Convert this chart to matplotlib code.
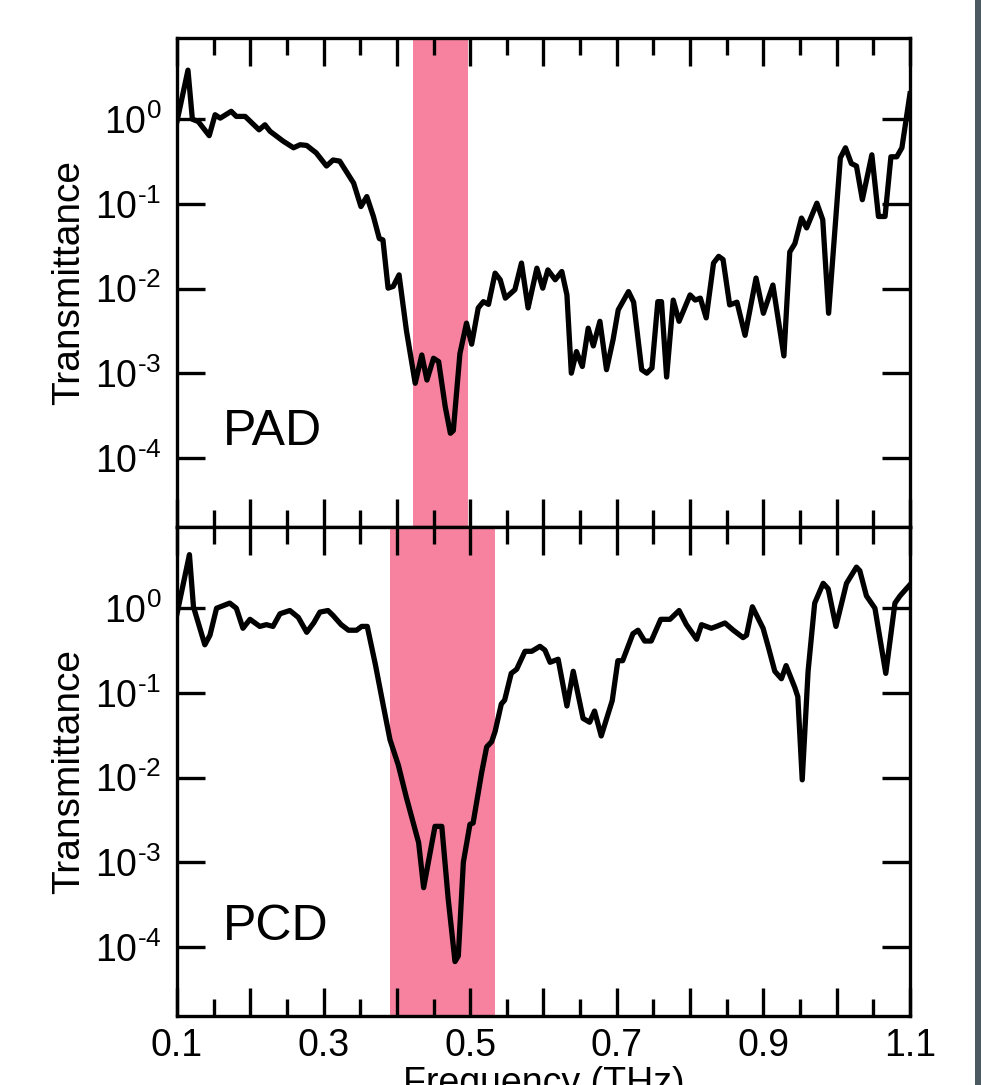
"""Terahertz transmittance spectra of the PAD and PCD samples."""

import matplotlib

matplotlib.use("Agg")
import matplotlib.pyplot as plt
import numpy as np
from matplotlib.patches import Rectangle
from matplotlib.ticker import FixedLocator, FuncFormatter

# PAD sample (top panel), frequency in THz
pad_freq = [
    0.100, 0.115, 0.121, 0.129, 0.144, 0.152, 0.159, 0.174, 0.181, 0.193,
    0.212, 0.220, 0.227, 0.245, 0.259, 0.268, 0.277, 0.290, 0.304, 0.313,
    0.322, 0.341, 0.351, 0.359, 0.368, 0.376, 0.381, 0.388, 0.395, 0.403,
    0.413, 0.425, 0.434, 0.441, 0.450, 0.457, 0.466, 0.473, 0.477, 0.486,
    0.495, 0.502, 0.511, 0.518, 0.525, 0.534, 0.541, 0.548, 0.561, 0.570,
    0.579, 0.591, 0.599, 0.606, 0.616, 0.625, 0.632, 0.638, 0.645, 0.653,
    0.661, 0.668, 0.677, 0.686, 0.695, 0.702, 0.716, 0.723, 0.734, 0.741,
    0.748, 0.756, 0.761, 0.768, 0.777, 0.785, 0.800, 0.807, 0.814, 0.822,
    0.832, 0.839, 0.845, 0.854, 0.864, 0.875, 0.890, 0.900, 0.913, 0.928,
    0.936, 0.943, 0.952, 0.959, 0.973, 0.981, 0.989, 1.005, 1.012, 1.020,
    1.027, 1.035, 1.048, 1.057, 1.066, 1.074, 1.082, 1.089, 1.100,
]
pad_trans = [
    0.94, 3.8, 1.0, 0.94, 0.64, 1.13, 1.03, 1.24, 1.08, 1.08,
    0.75, 0.86, 0.72, 0.55, 0.46, 0.50, 0.49, 0.40, 0.28, 0.33,
    0.32, 0.176, 0.093, 0.122, 0.071, 0.039, 0.0375, 0.0101, 0.0106, 0.0145,
    3.2e-3, 7.6e-4, 1.64e-3, 8.3e-4, 1.5e-3, 1.37e-3, 4.0e-4, 1.95e-4, 2.1e-4, 1.7e-3,
    3.9e-3, 2.2e-3, 5.9e-3, 7.0e-3, 6.5e-3, 0.0152, 0.0127, 7.7e-3, 9.7e-3, 0.020,
    5.9e-3, 0.0174, 0.0101, 0.0166, 0.0127, 0.0159, 8.4e-3, 1.0e-3, 1.8e-3, 1.2e-3,
    3.4e-3, 2.1e-3, 4.1e-3, 1.1e-3, 2.5e-3, 5.6e-3, 9.2e-3, 6.9e-3, 1.1e-3, 1.0e-3,
    1.15e-3, 7.0e-3, 7.0e-3, 9.0e-4, 7.3e-3, 4.1e-3, 8.4e-3, 7.3e-3, 7.7e-3, 4.5e-3,
    0.020, 0.024, 0.022, 6.4e-3, 6.9e-3, 2.8e-3, 0.0133, 5.1e-3, 0.011, 1.6e-3,
    0.027, 0.034, 0.068, 0.052, 0.102, 0.065, 5.1e-3, 0.35, 0.46, 0.30,
    0.28, 0.112, 0.38, 0.071, 0.071, 0.36, 0.36, 0.46, 2.0,
]

# PCD sample (bottom panel)
pcd_freq = [
    0.100, 0.117, 0.1225, 0.138, 0.145, 0.154, 0.172, 0.181, 0.190, 0.1996,
    0.213, 0.222, 0.231, 0.2405, 0.254, 0.2655, 0.277, 0.2865, 0.295, 0.306,
    0.313, 0.324, 0.334, 0.345, 0.352, 0.3596, 0.3706, 0.382, 0.3906, 0.402,
    0.413, 0.425, 0.4297, 0.4365, 0.452, 0.4613, 0.470, 0.4793, 0.4838, 0.4907,
    0.4997, 0.504, 0.5157, 0.5225, 0.5293, 0.534, 0.5425, 0.547, 0.556, 0.5634,
    0.5748, 0.584, 0.5952, 0.602, 0.609, 0.620, 0.632, 0.6406, 0.654, 0.663,
    0.6697, 0.6788, 0.6938, 0.7015, 0.708, 0.722, 0.729, 0.738, 0.747, 0.760,
    0.7726, 0.785, 0.795, 0.809, 0.8156, 0.829, 0.836, 0.8476, 0.859, 0.8723,
    0.877, 0.885, 0.8996, 0.9065, 0.9156, 0.9246, 0.931, 0.943, 0.947, 0.953,
    0.961, 0.970, 0.9816, 0.9884, 0.999, 1.0134, 1.027, 1.0316, 1.0406, 1.0522,
    1.067, 1.0795, 1.0864, 1.100,
]
pcd_trans = [
    0.86, 4.3, 1.04, 0.37, 0.48, 1.0, 1.15, 1.0, 0.58, 0.74,
    0.61, 0.64, 0.61, 0.86, 0.94, 0.78, 0.52, 0.67, 0.90, 0.94,
    0.82, 0.64, 0.55, 0.55, 0.61, 0.61, 0.218, 0.067, 0.028, 0.014,
    5.8e-3, 2.4e-3, 1.7e-3, 5.0e-4, 2.65e-3, 2.65e-3, 3.7e-4, 6.7e-5, 7.8e-5, 1.0e-3,
    2.8e-3, 2.9e-3, 0.0115, 0.023, 0.0265, 0.035, 0.074, 0.082, 0.17, 0.19,
    0.31, 0.31, 0.355, 0.32, 0.23, 0.25, 0.07, 0.18, 0.05, 0.045,
    0.061, 0.031, 0.081, 0.24, 0.24, 0.50, 0.55, 0.41, 0.41, 0.74,
    0.74, 0.94, 0.64, 0.43, 0.64, 0.58, 0.61, 0.67, 0.55, 0.45,
    0.48, 1.04, 0.58, 0.355, 0.18, 0.147, 0.21, 0.115, 0.09, 9.4e-3,
    0.18, 1.15, 1.97, 1.7, 0.61, 1.97, 3.06, 2.77, 1.4, 1.0,
    0.17, 1.15, 1.4, 1.9,
]

panel_labels = ["PAD", "PCD"]
bands = [(0.422, 0.497), (0.390, 0.534)]

x_major = [0.1, 0.2, 0.3, 0.4, 0.5, 0.6, 0.7, 0.8, 0.9, 1.0, 1.1]
x_minor = [0.15, 0.25, 0.35, 0.45, 0.55, 0.65, 0.75, 0.85, 0.95, 1.05]
x_labels = ["0.1", "", "0.3", "", "0.5", "", "0.7", "", "0.9", "", "1.1"]
y_decades = [1e-4, 1e-3, 1e-2, 1e-1, 1e0]

plt.rcParams["font.family"] = ["Liberation Sans", "DejaVu Sans"]
plt.rcParams["mathtext.fontset"] = "custom"
plt.rcParams["mathtext.rm"] = "Liberation Sans"
plt.rcParams["mathtext.it"] = "Liberation Sans:italic"
plt.rcParams["mathtext.bf"] = "Liberation Sans:bold"

FS = 27
PINK = "#f6829f"


def decade_label(v, pos):
    # short hyphen in the exponent, as in the original figure
    exp = int(round(np.log10(v)))
    sign = "\u2010" if exp < 0 else ""
    return f"10$^{{{sign}{abs(exp)}}}$"


fig = plt.figure(figsize=(9.81, 10.85), dpi=100)
ax_top = fig.add_axes([0.1804, 0.5143, 0.7472, 0.4507])
ax_bot = fig.add_axes([0.1804, 0.0636, 0.7472, 0.4507], sharex=ax_top)

series = [(pad_freq, pad_trans), (pcd_freq, pcd_trans)]
label_y = [0.168, 0.155]

for ax, (freq, trans), band, name, ly in zip(
    [ax_top, ax_bot], series, bands, panel_labels, label_y
):
    ax.axvspan(band[0], band[1], color=PINK, lw=0, zorder=0)
    ax.plot(freq, trans, color="black", lw=3.8, zorder=3)
    ax.set_yscale("log")
    ax.set_ylim(10 ** -4.817, 10 ** 0.96)
    ax.set_xlim(0.1, 1.1)

    ax.yaxis.set_major_locator(FixedLocator(y_decades))
    ax.yaxis.set_minor_locator(FixedLocator([]))
    ax.yaxis.set_major_formatter(FuncFormatter(decade_label))
    ax.xaxis.set_major_locator(FixedLocator(x_major))
    ax.xaxis.set_minor_locator(FixedLocator(x_minor))
    ax.set_xticklabels(x_labels)

    ax.tick_params(which="both", direction="in", top=True, right=True,
                   width=2.4, colors="black")
    ax.tick_params(which="major", length=20)
    ax.tick_params(which="minor", length=12)
    ax.tick_params(axis="y", labelsize=FS, pad=11)
    ax.tick_params(axis="x", labelsize=FS, pad=9)
    for sp in ax.spines.values():
        sp.set_linewidth(2.4)

    ax.set_ylabel("Transmittance", fontsize=28, labelpad=6)
    ax.text(0.063, ly, name, transform=ax.transAxes, fontsize=36,
            ha="left", va="baseline")

ax_top.tick_params(axis="x", labelbottom=False)
ax_bot.set_xlabel("Frequency (THz)", fontsize=FS, labelpad=1)
fig.align_ylabels([ax_top, ax_bot])

# dark strip along the right edge
fig.add_artist(Rectangle((975 / 981, 0), 6 / 981, 1, transform=fig.transFigure,
                         color="#4b5960", lw=0))

fig.savefig("out.png", dpi=100, facecolor="white")
